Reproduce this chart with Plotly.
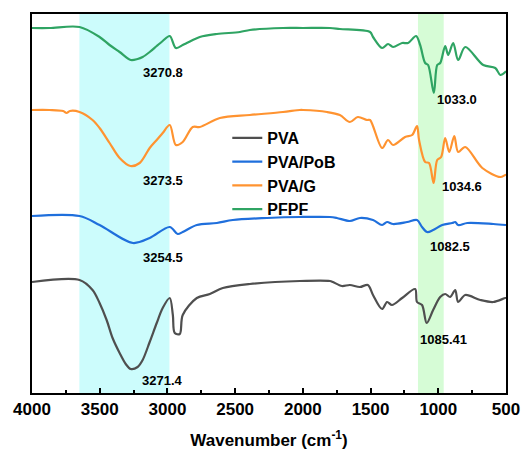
import plotly.graph_objects as go

# PVA (gray)
pva_wn = [4000, 3649, 3553, 3501, 3449, 3405, 3353, 3308, 3271.4, 3220, 3183, 3131, 3079, 3035,
          2983, 2960, 2946, 2909, 2887, 2783,
          2687, 2591, 2391, 2022, 1800, 1778, 1712, 1653, 1579, 1520, 1482, 1415, 1378, 1342,
          1267, 1171, 1157, 1120, 1085.41, 1038, 986, 949, 912, 875, 853, 801, 690, 594, 505, 500]
pva_t = [111, 113, 103, 90, 73, 55, 40, 29, 24, 26, 33, 51, 70, 85,
         95, 78, 60, 59, 78, 95,
         99, 105, 109, 112, 112, 111, 107, 108, 106, 108, 98, 84, 91, 88,
         95, 104, 91, 88, 70, 83, 96, 99, 96, 103, 91, 98, 93, 91, 95, 95]

# PVA/PoB (blue)
pob_wn = [4000, 3649, 3501, 3254.5, 3131, 2983, 2924, 2887, 2783, 2635, 2517, 2265, 2022, 1800,
          1749, 1653, 1579, 1482, 1415, 1378, 1334, 1230, 1157, 1120, 1082.5, 1038, 971, 897,
          875, 853, 786, 594, 500]
pob_t = [177, 177, 168, 150, 155, 166, 159, 161, 168, 170, 173, 175, 176, 176,
         175, 172, 175, 173, 168, 171, 169, 171, 173, 166, 161, 163, 168, 170,
         171, 168, 170, 169, 168]

# PVA/G (orange)
g_wn = [4000, 3871, 3770, 3745, 3720, 3649, 3553, 3501, 3427, 3353, 3273.5, 3205, 3131, 3079,
        3035, 2983,
        2938, 2887, 2813, 2761, 2613, 2391, 2147, 2022, 1999, 1822, 1727, 1653, 1594, 1527,
        1504, 1415, 1371, 1334, 1245, 1193, 1157, 1142, 1097, 1068, 1034.6, 1008, 979, 949,
        919, 882, 853, 801, 675, 542, 505, 500]
g_t = [283, 283, 282, 280, 282, 281, 273, 265, 250, 235, 227, 230, 245, 253,
       260, 268,
       248, 251, 266, 266, 275, 278, 281, 283, 283, 281, 278, 271, 276, 273,
       273, 245, 253, 248, 256, 258, 267, 253, 231, 230, 210, 233, 236, 255,
       241, 257, 241, 246, 225, 216, 218, 218]

# PFPF (green)
pfpf_wn = [4000, 3871, 3649, 3501, 3427, 3353, 3270.8, 3220, 3183, 3131, 3079, 3035, 2983, 2938,
           2887, 2857, 2761, 2635, 2465, 2391, 2147, 1999, 1800, 1727, 1504, 1482, 1415, 1371,
           1334, 1267, 1223, 1164, 1134, 1097, 1075, 1033.0, 1008, 986, 949, 927, 890, 853, 801,
           668, 579, 542, 505, 500]
pfpf_t = [365, 365, 366, 356, 348, 341, 333, 334, 336, 341, 347, 352, 357, 345,
          348, 350, 356, 359, 361, 363, 365, 365, 365, 364, 361, 356, 345, 349,
          346, 350, 350, 357, 348, 330, 328, 300, 328, 330, 347, 338, 350, 333, 346,
          328, 325, 318, 321, 322]

series = [
    ("PVA", pva_wn, pva_t, "#4f4f4f"),
    ("PVA/PoB", pob_wn, pob_t, "#1f6fdc"),
    ("PVA/G", g_wn, g_t, "#ff9330"),
    ("PFPF", pfpf_wn, pfpf_t, "#2fa463"),
]

# peak labels: (text, wavenumber position, value position)
peak_labels = [
    ("3270.8", 3035, 321), ("3273.5", 3035, 213), ("3254.5", 3035, 136), ("3271.4", 3035, 13),
    ("1033.0", 860, 294), ("1034.6", 823, 207), ("1082.5", 912, 147), ("1085.41", 960, 54),
]

regions = [(3650, 2985, "#ccfcfc"), (1150, 960, "#d6fcd6")]

fig = go.Figure()
for name, wn, t, col in series:
    fig.add_trace(go.Scatter(x=wn, y=t, mode="lines", name="<b>" + name + "</b>",
                             line=dict(color=col, width=2.2, shape="spline", smoothing=0.9)))

for x0, x1, col in regions:
    fig.add_shape(type="rect", xref="x", yref="paper", x0=x0, x1=x1, y0=0, y1=1,
                  fillcolor=col, line_width=0, layer="below")

for txt, xw, yv in peak_labels:
    fig.add_annotation(x=xw, y=yv, text="<b>" + txt + "</b>", showarrow=False,
                       font=dict(family="Arial, Liberation Sans", size=13, color="black"))

ticks_major = [4000, 3500, 3000, 2500, 2000, 1500, 1000, 500]
ticks_minor = [3750, 3250, 2750, 2250, 1750, 1250, 750]

fig.update_layout(
    width=522, height=454,
    margin=dict(l=32, r=16, t=14, b=61),
    paper_bgcolor="white", plot_bgcolor="white",
    font=dict(family="Arial, Liberation Sans", color="black"),
    showlegend=True,
    legend=dict(x=0.412, y=0.718, xanchor="left", yanchor="top", bgcolor="rgba(0,0,0,0)",
                font=dict(size=16, family="Arial, Liberation Sans"), tracegroupgap=0),
)
fig.update_xaxes(range=[4000, 500], tickmode="array",
                 tickvals=ticks_major,
                 ticktext=["<b>%d</b>" % v for v in ticks_major],
                 ticks="inside", ticklen=5, tickwidth=1.5, tickcolor="black",
                 minor=dict(tickvals=ticks_minor, ticks="inside",
                            ticklen=3, tickwidth=1.5, tickcolor="black"),
                 tickfont=dict(size=17), automargin=False,
                 showline=True, linecolor="black", linewidth=2, mirror=True,
                 showgrid=False, zeroline=False,
                 title=dict(text="<b>Wavenumber (cm<sup>-1</sup>)</b>", font=dict(size=17), standoff=16))
fig.update_yaxes(range=[0, 379], showticklabels=False, ticks="", automargin=False,
                 showline=True, linecolor="black", linewidth=2, mirror=True,
                 showgrid=False, zeroline=False)

fig.write_html("out.html")
